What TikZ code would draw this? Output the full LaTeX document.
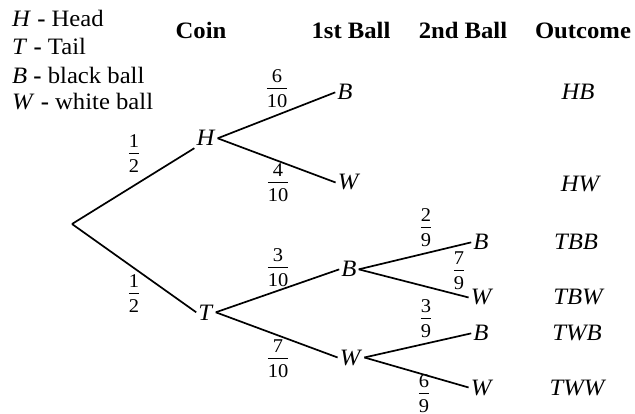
\documentclass[tikz,border=0pt]{standalone}
\usepackage{amsmath}
\usepackage{fontspec}
\setmainfont[FakeStretch=1.05]{Liberation Serif}
\newcommand\fr[2]{$\genfrac{}{}{0.9pt}{0}{\mbox{\raisebox{-3pt}[\height][0pt]{#1}}}{\mbox{#2}}$}
\begin{document}
\begin{tikzpicture}[x=1pt,y=-1pt,
  every node/.style={font=\fontsize{23.5}{27}\selectfont, inner sep=2pt},
  lbl/.style={anchor=base},
  hdr/.style={anchor=base, font=\fontsize{23.5}{27}\selectfont\bfseries},
  leg/.style={anchor=base west},
  prob/.style={anchor=center, inner sep=0pt, font=\fontsize{19.5}{21}\selectfont},
  br/.style={line width=1.7pt}]
\useasboundingbox (0,0) rectangle (635,414);
% legend
\node[leg] (l1) at (10,27) {\textit{H} \textbf{-} Head};
\node[leg] (l2) at (10,55) {\textit{T} \textbf{-} Tail};
\node[leg] (l3) at (10,84) {\textit{B} \textbf{-} black ball};
\node[leg] (l4) at (10,110) {\textit{W} \textbf{-} white ball};
% headers
\node[hdr] (hc) at (201,39) {Coin};
\node[hdr] (h1) at (351,39) {1st Ball};
\node[hdr] (h2) at (463,39) {2nd Ball};
\node[hdr] (ho) at (583,39) {Outcome};
% tree nodes
\coordinate (r) at (72,224);
\node[lbl] (H) at (206,146) {\textit{H}};
\node[lbl] (T) at (206,320) {\textit{T}};
\node[lbl] (B1) at (345,100) {\textit{B}};
\node[lbl] (W1) at (349,190) {\textit{W}};
\node[lbl] (B2) at (349,277) {\textit{B}};
\node[lbl] (W2) at (351,365) {\textit{W}};
\node[lbl] (BB) at (481,250) {\textit{B}};
\node[lbl] (BW) at (482,305) {\textit{W}};
\node[lbl] (WB) at (481,341) {\textit{B}};
\node[lbl] (WW) at (482,395) {\textit{W}};
% outcomes
\node[lbl] (oHB) at (578,100) {\textit{HB}};
\node[lbl] (oHW) at (581,192) {\textit{HW}};
\node[lbl] (oTBB) at (576,250) {\textit{TBB}};
\node[lbl] (oTBW) at (579,305) {\textit{TBW}};
\node[lbl] (oTWB) at (577,341) {\textit{TWB}};
\node[lbl] (oTWW) at (578,395) {\textit{TWW}};
% branches
\draw[br] (r) -- (H.south west);
\draw[br] (r) -- (T.west);
\draw[br] (H.east) -- (B1.west);
\draw[br] (H.east) -- (W1.west);
\draw[br] (T.east) -- (B2.west);
\draw[br] (T.east) -- (W2.west);
\draw[br] (B2.east) -- (BB.west);
\draw[br] (B2.east) -- (BW.west);
\draw[br] (W2.east) -- (WB.west);
\draw[br] (W2.east) -- (WW.west);
% probabilities
\node[prob] (p1) at (134,152) {\fr{1}{2}};
\node[prob] (p2) at (134,292) {\fr{1}{2}};
\node[prob] (p3) at (277,87) {\fr{6}{10}};
\node[prob] (p4) at (278,181) {\fr{4}{10}};
\node[prob] (p5) at (278,266) {\fr{3}{10}};
\node[prob] (p6) at (278,357) {\fr{7}{10}};
\node[prob] (p7) at (426,226) {\fr{2}{9}};
\node[prob] (p8) at (459,269) {\fr{7}{9}};
\node[prob] (p9) at (426,317) {\fr{3}{9}};
\node[prob] (p10) at (424,392) {\fr{6}{9}};
\end{tikzpicture}
\end{document}
